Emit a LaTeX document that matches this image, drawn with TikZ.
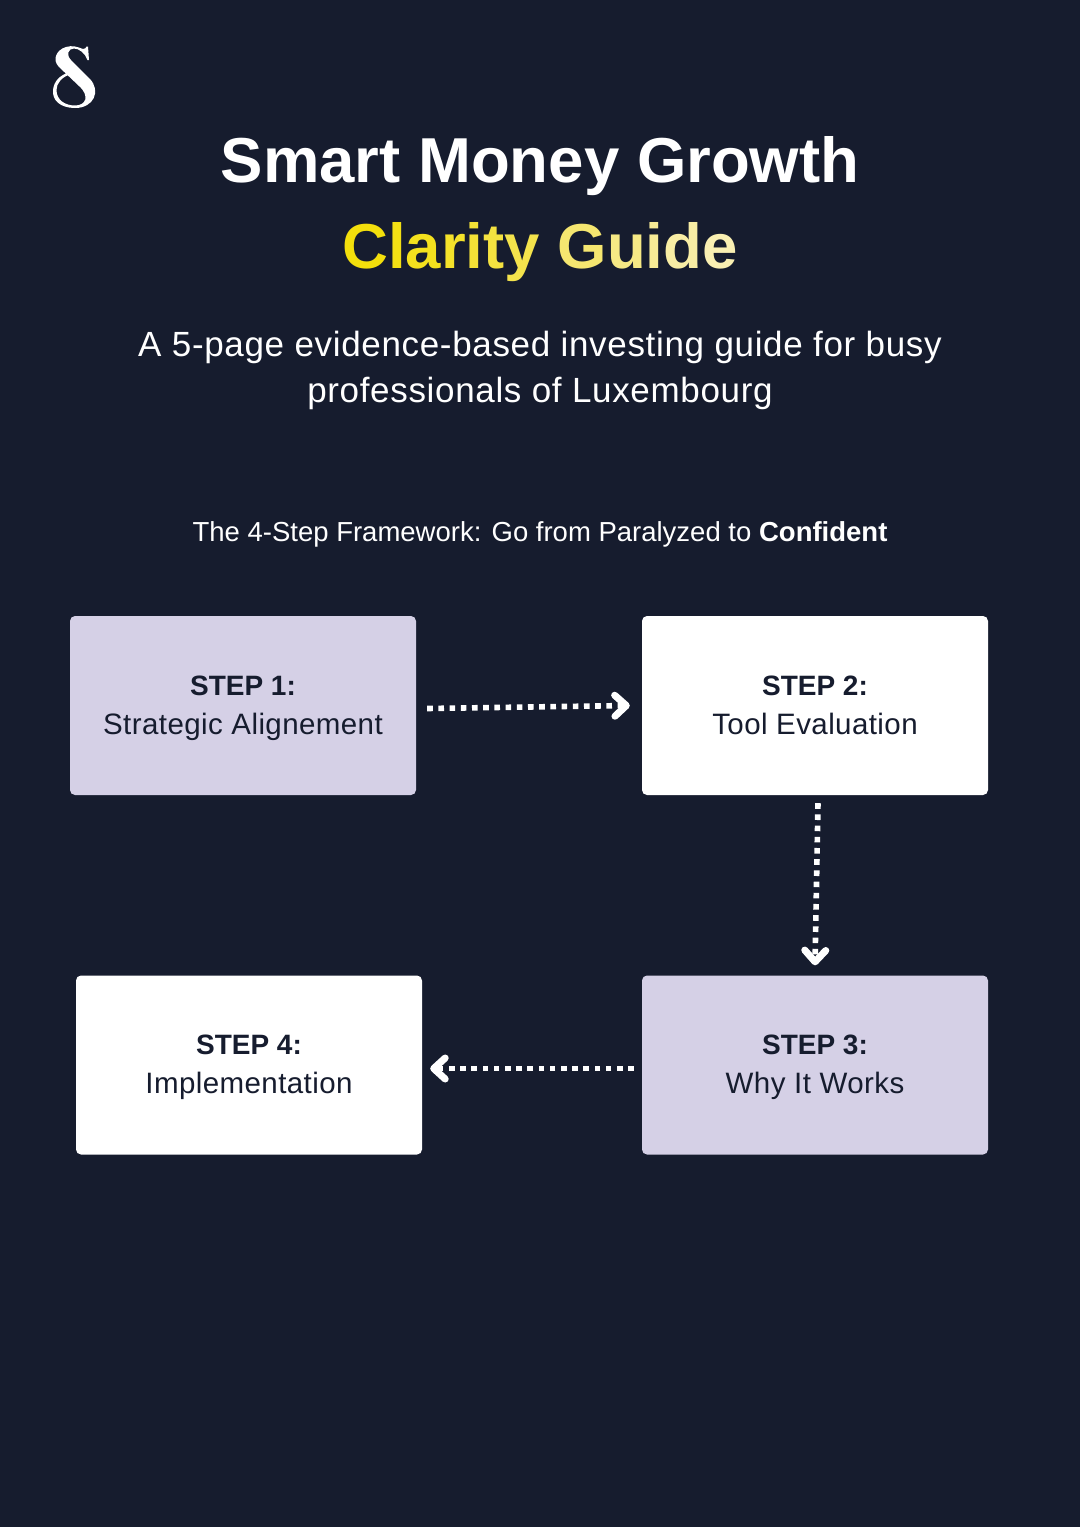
\documentclass[tikz,border=0pt]{standalone}
\usepackage{fontspec}
\setmainfont{Liberation Sans}
\newfontface\subface[LetterSpace=1.9]{Liberation Sans}
\newfontface\bodyface[LetterSpace=1.4]{Liberation Sans}
\usetikzlibrary{arrows.meta}
\definecolor{bgc}{HTML}{161C2E}
\definecolor{lav}{HTML}{D5D0E6}
\newcommand{\ylwl}[2]{{\color[HTML]{#1}#2}}
\newcommand{\stepst}{\rule[-10pt]{0pt}{38pt}}
\newcommand{\stephead}[1]{\stepst{\fontsize{28}{39}\bfseries\selectfont #1}}
\newcommand{\stepbody}[1]{\stepst{\bodyface\fontsize{29.5}{39}\selectfont #1}}
\tikzset{
 x=1pt,y=-1pt,
 stepbox/.style={minimum width=346pt,minimum height=179pt,rounded corners=5pt,inner sep=0pt,text=bgc,align=center},
 flow/.style={draw=white,line width=5.6pt,dash pattern=on 5.6pt off 5.6pt,
  -{Straight Barb[length=11.5pt,width=21pt,line width=7pt,round]}},
 title/.style={text=white,font=\fontsize{63.5}{70}\bfseries\selectfont,inner sep=0pt,anchor=base},
 sub/.style={text=white,font=\subface\fontsize{35}{46}\selectfont,inner sep=0pt,anchor=base},
}
\begin{document}
\begin{tikzpicture}
\useasboundingbox (0,0) rectangle (1080,1527);
\fill[bgc] (0,0) rectangle (1080,1527);
% logo
\fill[white] (66,47) .. controls (72,45) and (78,47) .. (83,49) .. controls (85,49) and (86,48) .. (86.5,46.5) -- (88,46.5) -- (89,60) -- (87.5,60)
 .. controls (85,53) and (79,48.5) .. (74,48.5) .. controls (68,48.5) and (66,55) .. (71,60)
 -- (90,79) .. controls (101,91) and (94,108) .. (75,108)
 .. controls (60,108) and (52,100) .. (53,90) .. controls (54,81) and (60,75) .. (69,72.5)
 -- (70,74.5) .. controls (62,77) and (56.5,83) .. (56.5,90) .. controls (56.5,100) and (65,105.5) .. (75,105.5)
 .. controls (86,105.5) and (90,96) .. (79,86) -- (59,67) .. controls (52,60) and (56,50) .. (66,47) -- cycle;
\node[title] (t1) at (540,182) {Smart Money Growth};
\node[title] (t2) at (540,268) {\ylwl{F3DF0C}{C}\ylwl{F3E014}{l}\ylwl{F4E11E}{a}\ylwl{F4E22A}{r}\ylwl{F4E236}{i}\ylwl{F4E240}{t}\ylwl{F4E34C}{y} \ylwl{F5E670}{G}\ylwl{F6E985}{u}\ylwl{F7EB96}{i}\ylwl{F8EDA4}{d}\ylwl{F9EFB2}{e}};
\node[sub] (t3) at (540,356) {A 5-page evidence-based investing guide for busy};
\node[sub] (t5) at (540,402) {professionals of Luxembourg};
\node[text=white,font=\fontsize{27.5}{32}\selectfont,inner sep=0pt,anchor=base] (t4) at (540,541) {The 4-Step Framework: Go from Paralyzed to \textbf{Confident}};
\node[stepbox,fill=lav] (s1) at (243,705.5) {\stephead{STEP 1:}\\\stepbody{Strategic Alignement}};
\node[stepbox,fill=white] (s2) at (815,705.5) {\stephead{STEP 2:}\\\stepbody{Tool Evaluation}};
\node[stepbox,fill=lav] (s3) at (815,1065) {\stephead{STEP 3:}\\\stepbody{Why It Works}};
\node[stepbox,fill=white] (s4) at (249,1065) {\stephead{STEP 4:}\\\stepbody{Implementation}};
\draw[flow] ([shift={(11,3)}]s1.east) -- ([shift={(-12,0)}]s2.west);
\draw[flow] ([shift={(3,8)}]s2.south) -- ([shift={(0,-10)}]s3.north);
\draw[flow] ([shift={(-8,3.5)}]s3.west) -- ([shift={(8,3.5)}]s4.east);
\end{tikzpicture}
\end{document}
